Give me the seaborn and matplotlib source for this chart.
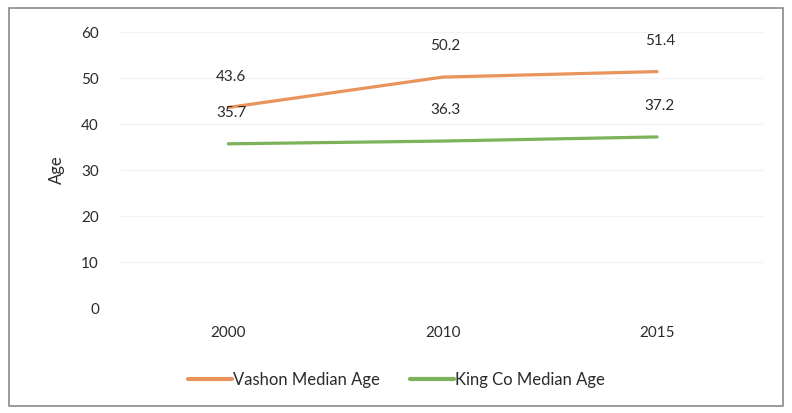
import pandas as pd
import matplotlib.pyplot as plt
import matplotlib.patches as patches
import seaborn as sns

# data
years = ['2000', '2010', '2015']
vashon_age = [43.6, 50.2, 51.4]
king_age = [35.7, 36.3, 37.2]
series_names = ['Vashon Median Age', 'King Co Median Age']

df = pd.DataFrame({
    'pos': list(range(len(years))) * 2,
    'age': vashon_age + king_age,
    'series': [series_names[0]] * len(years) + [series_names[1]] * len(years),
})

sns.set_style('white')
plt.rcParams['font.family'] = ['Lato', 'DejaVu Sans']
text_color = '#2b2b2b'

fig = plt.figure(figsize=(7.92, 4.13), dpi=100)
ax = fig.add_axes([0.153, 0.254, 0.812, 0.6685])

palette = {series_names[0]: '#e8945c', series_names[1]: '#7cb25a'}
sns.lineplot(data=df, x='pos', y='age', hue='series', palette=palette,
             linewidth=2.3, ax=ax, legend=False)

# data labels above each point
for vals in (vashon_age, king_age):
    for i, v in enumerate(vals):
        ax.annotate(f'{v}', (i, v), xytext=(2, 17), textcoords='offset points',
                    ha='center', va='bottom', fontsize=11, color=text_color)

ax.set_xlim(-0.5, len(years) - 0.5)
ax.set_ylim(0, 60)
ax.set_xticks(range(len(years)))
ax.set_xticklabels(years)
ax.set_yticks(range(0, 61, 10))
ax.tick_params(axis='both', length=0, labelsize=11, colors=text_color)
ax.tick_params(axis='y', pad=16)
ax.tick_params(axis='x', pad=13)
ax.yaxis.grid(True, color='#f3f3f3', linewidth=1)
ax.set_axisbelow(True)
for s in ax.spines.values():
    s.set_visible(False)
ax.set_xlabel('')
ax.set_ylabel('Age', fontsize=12, color=text_color, labelpad=12)

# legend below the plot
handles = [plt.Line2D([], [], color=palette[n], linewidth=3) for n in series_names]
fig.legend(handles, series_names, loc='center', bbox_to_anchor=(0.501, 0.08),
           ncol=2, frameon=False, fontsize=12, handlelength=2.6,
           handletextpad=0.1, columnspacing=1.8, labelcolor=text_color)

# outer frame of the chart
fig.patches.append(patches.Rectangle((0.011, 0.018), 0.978, 0.962, transform=fig.transFigure,
                                     fill=False, edgecolor='#8a8a8a', linewidth=1.2))

fig.savefig('out.png', dpi=100)
